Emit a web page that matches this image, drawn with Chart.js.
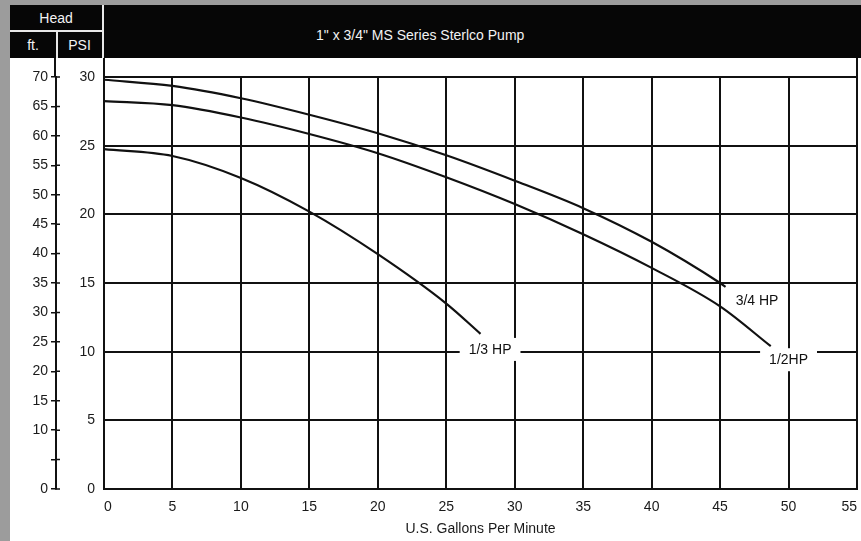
<!DOCTYPE html>
<html>
<head>
<meta charset="utf-8">
<script src="https://cdn.jsdelivr.net/npm/chart.js@4.4.1/dist/chart.umd.min.js"></script>
<style>
  html, body { margin: 0; padding: 0; }
  body { width: 861px; height: 541px; position: relative; overflow: hidden; background: #9c9c9c; font-family: "Liberation Sans", Arial, sans-serif; }
  #paper { position: absolute; left: 10px; top: 6px; width: 851px; height: 535px; background: #fff; }
  #chart-box { position: absolute; left: 0; top: 0; width: 861px; height: 541px; }
  .hdr { position: absolute; background: #060606; }
  .cell { position: absolute; display: flex; align-items: center; justify-content: center; color: #f2f2f2; font-size: 14px; }
  .wline { position: absolute; background: #e8e8e8; }
</style>
</head>
<body>
<div id="paper"></div>
<div id="chart-box"><canvas id="pump-curves" width="861" height="541"></canvas></div>

<div class="hdr" style="left:10px; top:5px; width:851px; height:53px;"></div>
<div class="cell" style="left:10px; top:5px; width:92px; height:25px;">Head</div>
<div class="cell" style="left:10px; top:31px; width:46px; height:27px;">ft.</div>
<div class="cell" style="left:57px; top:31px; width:45px; height:27px;">PSI</div>
<div class="wline" style="left:10px; top:30px; width:92px; height:2px;"></div>
<div class="wline" style="left:56px; top:30px; width:2px; height:28px;"></div>
<div class="wline" style="left:102px; top:5px; width:2px; height:53px;"></div>
<div class="cell" style="left:316px; top:25px; height:20px; justify-content:flex-start;">1" x 3/4" MS Series Sterlco Pump</div>

<script>
// flow (U.S. gpm) and pressure (PSI)
const gpm34 = [0, 5, 10, 15, 20, 25, 30, 35, 40, 45, 45.4];
const psi34 = [29.8, 29.35, 28.45, 27.25, 25.9, 24.3, 22.45, 20.45, 18.0, 15.0, 14.72];
const gpm12 = [0, 5, 10, 15, 20, 25, 30, 35, 40, 45, 48.7];
const psi12 = [28.25, 27.95, 27.05, 25.85, 24.45, 22.7, 20.75, 18.55, 16.1, 13.3, 10.4];
const gpm13 = [0, 5, 10, 15, 20, 25, 27.5];
const psi13 = [24.75, 24.25, 22.65, 20.2, 17.1, 13.5, 11.3];

// curve labels, anchored in data units
const labelTexts = ["3/4 HP", "1/3 HP", "1/2HP"];
const labelGpm = [47.7, 28.2, 50.0];
const labelPsi = [13.75, 10.2, 9.45];
const labelBoxed = [false, true, true];

const xTitle = "U.S. Gallons Per Minute";
const ink = "#111";
const tickFont = { family: "'Liberation Sans', Arial, sans-serif", size: 14 };

function toPoints(xs, ys) {
  return xs.map((x, i) => ({ x: x, y: ys[i] }));
}

// ft ticks cross the axis line, and the axis lines run up to the header
const framePlugin = {
  id: "frame",
  afterDraw(chart) {
    const ctx = chart.ctx;
    const area = chart.chartArea;
    const ft = chart.scales.ft;
    ctx.save();
    ctx.strokeStyle = ink;
    ctx.lineWidth = 2;
    ctx.beginPath();
    [ft.right - 1, area.left, area.right].forEach((x) => {
      ctx.moveTo(x, 58);
      ctx.lineTo(x, area.top);
    });
    ctx.stroke();
    ctx.lineWidth = 1.5;
    ctx.beginPath();
    ft.ticks.forEach((t) => {
      const y = ft.getPixelForValue(t.value);
      ctx.moveTo(ft.right - 1, y);
      ctx.lineTo(ft.right + 4, y);
    });
    ctx.stroke();
    ctx.restore();
  },
};

const labelPlugin = {
  id: "curveLabels",
  afterDatasetsDraw(chart) {
    const ctx = chart.ctx;
    const xs = chart.scales.x;
    const ys = chart.scales.y;
    ctx.save();
    ctx.font = "14px 'Liberation Sans', Arial, sans-serif";
    ctx.textAlign = "center";
    ctx.textBaseline = "middle";
    labelTexts.forEach((text, i) => {
      const px = xs.getPixelForValue(labelGpm[i]);
      const py = ys.getPixelForValue(labelPsi[i]);
      if (labelBoxed[i]) {
        const w = ctx.measureText(text).width + 18;
        ctx.fillStyle = "#fff";
        ctx.fillRect(px - w / 2, py - 11, w, 23);
      }
      ctx.fillStyle = ink;
      ctx.fillText(text, px, py + 1);
    });
    ctx.restore();
  },
};

const curveStyle = {
  borderColor: ink,
  borderWidth: 2.2,
  pointRadius: 0,
  fill: false,
  cubicInterpolationMode: "monotone",
  yAxisID: "y",
};

new Chart(document.getElementById("pump-curves"), {
  type: "line",
  data: {
    datasets: [
      { label: "3/4 HP", data: toPoints(gpm34, psi34), ...curveStyle },
      { label: "1/2HP", data: toPoints(gpm12, psi12), ...curveStyle },
      { label: "1/3 HP", data: toPoints(gpm13, psi13), ...curveStyle },
    ],
  },
  options: {
    responsive: false,
    animation: false,
    layout: { autoPadding: false, padding: { left: 10, right: 4, top: 77, bottom: 0 } },
    plugins: { legend: { display: false }, tooltip: { enabled: false } },
    scales: {
      x: {
        type: "linear",
        min: 0,
        max: 55,
        ticks: { stepSize: 5, padding: 10, align: "inner", color: "#1a1a1a", font: tickFont },
        grid: { color: ink, lineWidth: 2, drawTicks: false },
        border: { color: ink, width: 2 },
        title: { display: true, text: xTitle, color: "#1a1a1a", font: tickFont, padding: { top: 4, bottom: 3 } },
        afterFit: (scale) => {
          scale.height = 52;
          scale.paddingLeft = 0;
          scale.paddingRight = 0;
        },
      },
      y: {
        position: "left",
        weight: 0,
        min: 0,
        max: 30,
        ticks: { stepSize: 5, padding: 9, color: "#1a1a1a", font: tickFont },
        grid: { color: ink, lineWidth: 2, drawTicks: false },
        border: { color: ink, width: 2 },
        afterFit: (scale) => { scale.width = 48; },
      },
      ft: {
        position: "left",
        weight: 1,
        min: 0,
        max: 70,
        ticks: {
          stepSize: 5,
          padding: 3,
          color: "#1a1a1a",
          font: tickFont,
          callback: (v) => (v === 5 ? "" : v),
        },
        grid: { drawOnChartArea: false, color: ink, tickLength: 5, lineWidth: 1.5 },
        border: { color: ink, width: 2 },
        afterFit: (scale) => { scale.width = 46; },
      },
    },
  },
  plugins: [framePlugin, labelPlugin],
});
</script>
</body>
</html>
